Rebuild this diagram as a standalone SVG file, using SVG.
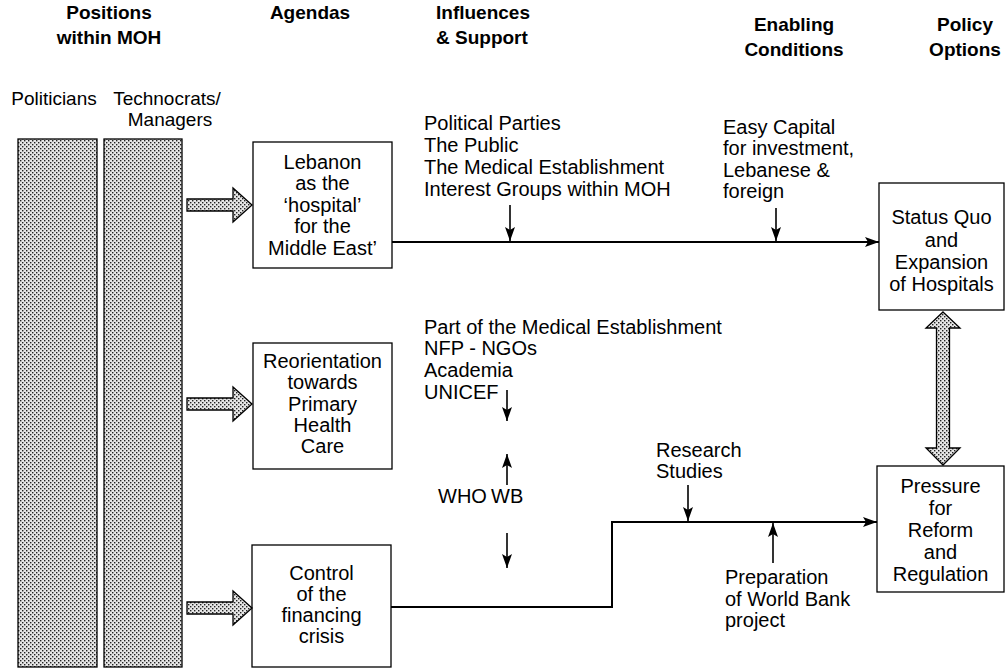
<svg xmlns="http://www.w3.org/2000/svg" width="1006" height="671" viewBox="0 0 1006 671">
<style>
.h{font-family:"Liberation Sans",Arial,sans-serif;font-weight:bold;font-size:19px;fill:#000}
.t{font-family:"Liberation Sans",Arial,sans-serif;font-size:20px;fill:#000}
.s{font-family:"Liberation Sans",Arial,sans-serif;font-size:19px;fill:#000}
.m{text-anchor:middle}
.box{fill:#fff;stroke:#000;stroke-width:1.3}
.bar{fill:url(#dots);stroke:#000;stroke-width:1.3}
.hol{fill:url(#dots);stroke:#000;stroke-width:1.3;stroke-linejoin:miter}
.ln{fill:none;stroke:#000;stroke-width:2}
.sm{fill:none;stroke:#000;stroke-width:1.6}
</style>
<defs>
<pattern id="dots" width="4" height="4" patternUnits="userSpaceOnUse">
<rect width="4" height="4" fill="#e6e6e6"/>
<rect x="0" y="0" width="1.4" height="1.4" fill="#222"/>
<rect x="2" y="2" width="1.4" height="1.4" fill="#222"/>
</pattern>
<marker id="ah" viewBox="0 0 14 10" refX="14" refY="5" markerWidth="14" markerHeight="10" markerUnits="userSpaceOnUse" orient="auto">
<path d="M0,0 L14,5 L0,10 L3,5 Z" fill="#000"/>
</marker>
</defs>
<rect width="1006" height="671" fill="#fff"/>

<g id="headers">
<text class="h m" x="109" y="19">Positions</text>
<text class="h m" x="109" y="44">within MOH</text>
<text class="h m" x="310" y="19">Agendas</text>
<text class="h" x="436" y="19">Influences</text>
<text class="h" x="436" y="44">&amp; Support</text>
<text class="h m" x="794" y="31">Enabling</text>
<text class="h m" x="794" y="56">Conditions</text>
<text class="h m" x="965" y="31">Policy</text>
<text class="h m" x="965" y="56">Options</text>
</g>

<g id="politicians">
<text class="s m" x="54" y="105">Politicians</text>
<rect class="bar" x="18" y="139" width="79" height="528"/>
</g>
<g id="technocrats">
<text class="s m" x="167" y="105">Technocrats/</text>
<text class="s m" x="170" y="126">Managers</text>
<rect class="bar" x="104" y="139" width="78" height="528"/>
</g>

<g id="agenda-lebanon">
<rect class="box" x="253" y="142" width="139" height="126"/>
<text class="t m" x="322.5" y="169">Lebanon</text>
<text class="t m" x="322.5" y="190">as the</text>
<text class="t m" x="322.5" y="212">‘hospital’</text>
<text class="t m" x="322.5" y="233">for the</text>
<text class="t m" x="322.5" y="255">Middle East’</text>
</g>
<g id="agenda-phc">
<rect class="box" x="253" y="343" width="139" height="126"/>
<text class="t m" x="322.5" y="368">Reorientation</text>
<text class="t m" x="322.5" y="389">towards</text>
<text class="t m" x="322.5" y="411">Primary</text>
<text class="t m" x="322.5" y="432">Health</text>
<text class="t m" x="322.5" y="453">Care</text>
</g>
<g id="agenda-financing">
<rect class="box" x="252" y="545" width="139" height="122"/>
<text class="t m" x="321.5" y="580">Control</text>
<text class="t m" x="321.5" y="601">of the</text>
<text class="t m" x="321.5" y="622">financing</text>
<text class="t m" x="321.5" y="643">crisis</text>
</g>

<g id="influences-top">
<text class="t" x="424" y="130">Political Parties</text>
<text class="t" x="424" y="152">The Public</text>
<text class="t" x="424" y="174">The Medical Establishment</text>
<text class="t" x="424" y="196">Interest Groups within MOH</text>
</g>
<g id="influences-mid">
<text class="t" x="424" y="334">Part of the Medical Establishment</text>
<text class="t" x="424" y="355">NFP - NGOs</text>
<text class="t" x="424" y="377">Academia</text>
<text class="t" x="424" y="399">UNICEF</text>
</g>
<g id="influences-intl">
<text class="t" x="438" y="503">WHO</text>
<text class="t" x="491" y="503">WB</text>
</g>
<g id="enabling-top">
<text class="t" x="723" y="134">Easy Capital</text>
<text class="t" x="723" y="155">for investment,</text>
<text class="t" x="723" y="177">Lebanese &amp;</text>
<text class="t" x="723" y="198">foreign</text>
</g>
<g id="enabling-research">
<text class="t" x="656" y="457">Research</text>
<text class="t" x="656" y="478">Studies</text>
</g>
<g id="enabling-wb">
<text class="t" x="725" y="584">Preparation</text>
<text class="t" x="725" y="606">of World Bank</text>
<text class="t" x="725" y="627">project</text>
</g>

<g id="policy-statusquo">
<rect class="box" x="879" y="183" width="125" height="127"/>
<text class="t m" x="941.5" y="224">Status Quo</text>
<text class="t m" x="941.5" y="247">and</text>
<text class="t m" x="941.5" y="269">Expansion</text>
<text class="t m" x="941.5" y="291">of Hospitals</text>
</g>
<g id="policy-reform">
<rect class="box" x="877" y="466" width="127" height="126"/>
<text class="t m" x="940.5" y="493">Pressure</text>
<text class="t m" x="940.5" y="515">for</text>
<text class="t m" x="940.5" y="537">Reform</text>
<text class="t m" x="940.5" y="559">and</text>
<text class="t m" x="940.5" y="581">Regulation</text>
</g>

<g id="connectors">
<polygon class="hol" points="187,199 233,199 233,188 252,205 233,222 233,211 187,211"/>
<polygon class="hol" points="187,398 233,398 233,387 252,404 233,421 233,410 187,410"/>
<polygon class="hol" points="187,602 233,602 233,591 252,608 233,625 233,614 187,614"/>
<polygon class="hol" points="943,312 960,328 949.5,328 949.5,448 960,448 943,465 926,448 936.5,448 936.5,328 926,328"/>
<path class="ln" d="M392,242 L879,242" marker-end="url(#ah)"/>
<path class="ln" d="M391,607 L612,607 L612,522 L877,522" marker-end="url(#ah)"/>
<path class="sm" d="M510,205 L510,241" marker-end="url(#ah)"/>
<path class="sm" d="M776,208 L776,241" marker-end="url(#ah)"/>
<path class="sm" d="M507,390 L507,421" marker-end="url(#ah)"/>
<path class="sm" d="M507,485 L507,454" marker-end="url(#ah)"/>
<path class="sm" d="M507,533 L507,568" marker-end="url(#ah)"/>
<path class="sm" d="M688,485 L688,521" marker-end="url(#ah)"/>
<path class="sm" d="M773,563 L773,523" marker-end="url(#ah)"/>
</g>
</svg>
